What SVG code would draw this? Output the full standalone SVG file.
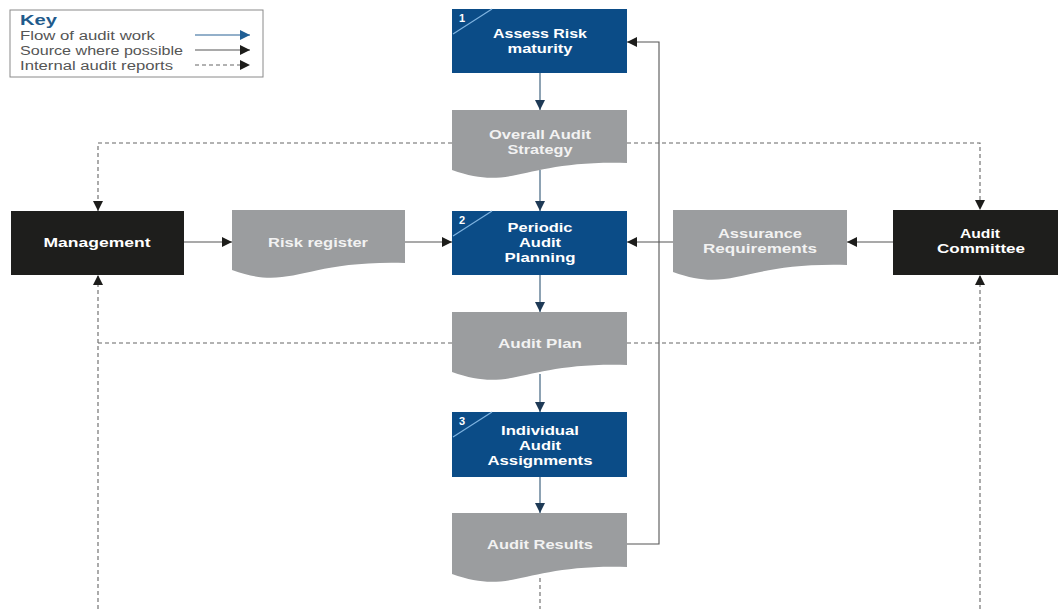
<svg xmlns="http://www.w3.org/2000/svg" width="1058" height="609" viewBox="0 0 1058 609">
<defs>
<marker id="ahBlue" viewBox="0 0 10 10" refX="10" refY="5" markerWidth="12" markerHeight="10" markerUnits="userSpaceOnUse" orient="auto"><path d="M0,0 L10,5 L0,10 Z" fill="#1e3a56"/></marker>
<marker id="ahKeyBlue" viewBox="0 0 10 10" refX="10" refY="5" markerWidth="12" markerHeight="10" markerUnits="userSpaceOnUse" orient="auto"><path d="M0,0 L10,5 L0,10 Z" fill="#1f5f95"/></marker>
<marker id="ahBlack" viewBox="0 0 10 10" refX="10" refY="5" markerWidth="12" markerHeight="10" markerUnits="userSpaceOnUse" orient="auto"><path d="M0,0 L10,5 L0,10 Z" fill="#1d1d1b"/></marker>
</defs>
<style>
.blue{fill:#0b4c87}
.doc{fill:#9b9d9f}
.dark{fill:#1e1e1c}
.t{font-family:"Liberation Sans",Arial,sans-serif;font-weight:bold;font-size:12.5px;text-anchor:middle}
.tw{fill:#ffffff}
.tg{fill:#f2f2f2}
.num{font-family:"Liberation Sans",Arial,sans-serif;font-weight:bold;font-size:11px;fill:#ffffff}
.diag{stroke:#7fb3e0;stroke-width:1.2;fill:none}
.flow{stroke:#50708a;stroke-width:1.3;fill:none}
.src{stroke:#555555;stroke-width:1.1;fill:none}
.rep{stroke:#666666;stroke-width:1.1;fill:none;stroke-dasharray:4 3}
.key{font-family:"Liberation Sans",Arial,sans-serif;font-size:12px;fill:#555555}
</style>
<rect width="1058" height="609" fill="#ffffff"/>

<g id="key">
<rect x="10" y="10" width="253" height="67" fill="#ffffff" stroke="#8a8a8a" stroke-width="1"/>
<text x="20" y="25" font-family="Liberation Sans,Arial,sans-serif" font-weight="bold" font-size="15" fill="#1f5b8c" textLength="37" lengthAdjust="spacingAndGlyphs">Key</text>
<text x="20" y="40" class="key" textLength="135" lengthAdjust="spacingAndGlyphs">Flow of audit work</text>
<text x="20" y="55" class="key" textLength="163" lengthAdjust="spacingAndGlyphs">Source where possible</text>
<text x="20" y="70" class="key" textLength="153" lengthAdjust="spacingAndGlyphs">Internal audit reports</text>
<line x1="195" y1="35" x2="250" y2="35" stroke="#6f96b8" stroke-width="1.3" marker-end="url(#ahKeyBlue)"/>
<line x1="195" y1="50" x2="250" y2="50" class="src" marker-end="url(#ahBlack)"/>
<line x1="195" y1="65" x2="250" y2="65" class="rep" marker-end="url(#ahBlack)"/>
</g>

<g id="connectors">
<line x1="540" y1="73" x2="540" y2="110" class="flow" marker-end="url(#ahBlue)"/>
<line x1="540" y1="170" x2="540" y2="211" class="flow" marker-end="url(#ahBlue)"/>
<line x1="540" y1="275" x2="540" y2="312" class="flow" marker-end="url(#ahBlue)"/>
<line x1="540" y1="374" x2="540" y2="412" class="flow" marker-end="url(#ahBlue)"/>
<line x1="540" y1="477" x2="540" y2="513" class="flow" marker-end="url(#ahBlue)"/>
<polyline points="627,544 659,544 659,42 627,42" class="src" marker-end="url(#ahBlack)"/>
<line x1="184" y1="242" x2="232" y2="242" class="src" marker-end="url(#ahBlack)"/>
<line x1="405" y1="242" x2="452" y2="242" class="src" marker-end="url(#ahBlack)"/>
<line x1="673" y1="242" x2="627" y2="242" class="src" marker-end="url(#ahBlack)"/>
<line x1="893" y1="242" x2="847" y2="242" class="src" marker-end="url(#ahBlack)"/>
<polyline points="452,143 98,143 98,211" class="rep" marker-end="url(#ahBlack)"/>
<polyline points="627,143 980,143 980,210" class="rep" marker-end="url(#ahBlack)"/>
<line x1="98" y1="609" x2="98" y2="275" class="rep" marker-end="url(#ahBlack)"/>
<line x1="980" y1="609" x2="980" y2="275" class="rep" marker-end="url(#ahBlack)"/>
<line x1="98" y1="343" x2="452" y2="343" class="rep"/>
<line x1="627" y1="343" x2="980" y2="343" class="rep"/>
<line x1="540" y1="578" x2="540" y2="609" class="rep"/>
</g>

<g id="assess-risk">
<rect x="452" y="9" width="175" height="64" class="blue"/>
<line x1="453" y1="34" x2="492" y2="9" class="diag"/>
<text x="459" y="22" class="num">1</text>
<text x="540" y="38" class="t tw" textLength="94" lengthAdjust="spacingAndGlyphs">Assess Risk</text>
<text x="540" y="53" class="t tw" textLength="65" lengthAdjust="spacingAndGlyphs">maturity</text>
</g>

<g id="overall-strategy">
<path d="M452,110 H627 V163 C522,160 513,192 452,170 Z" class="doc"/>
<text x="540" y="139" class="t tg" textLength="102" lengthAdjust="spacingAndGlyphs">Overall Audit</text>
<text x="540" y="154" class="t tg" textLength="65" lengthAdjust="spacingAndGlyphs">Strategy</text>
</g>

<g id="periodic-planning">
<rect x="452" y="211" width="175" height="64" class="blue"/>
<line x1="453" y1="236" x2="492" y2="211" class="diag"/>
<text x="459" y="224" class="num">2</text>
<text x="540" y="232" class="t tw" textLength="65" lengthAdjust="spacingAndGlyphs">Periodic</text>
<text x="540" y="247" class="t tw" textLength="42" lengthAdjust="spacingAndGlyphs">Audit</text>
<text x="540" y="262" class="t tw" textLength="71" lengthAdjust="spacingAndGlyphs">Planning</text>
</g>

<g id="audit-plan">
<path d="M452,312 H627 V365 C522,362 513,394 452,372 Z" class="doc"/>
<text x="540" y="348" class="t tg" textLength="84" lengthAdjust="spacingAndGlyphs">Audit Plan</text>
</g>

<g id="individual-assignments">
<rect x="452" y="412" width="175" height="65" class="blue"/>
<line x1="453" y1="437" x2="492" y2="412" class="diag"/>
<text x="459" y="425" class="num">3</text>
<text x="540" y="435" class="t tw" textLength="78" lengthAdjust="spacingAndGlyphs">Individual</text>
<text x="540" y="450" class="t tw" textLength="42" lengthAdjust="spacingAndGlyphs">Audit</text>
<text x="540" y="465" class="t tw" textLength="105" lengthAdjust="spacingAndGlyphs">Assignments</text>
</g>

<g id="audit-results">
<path d="M452,513 H627 V567 C522,564 513,596 452,574 Z" class="doc"/>
<text x="540" y="549" class="t tg" textLength="106" lengthAdjust="spacingAndGlyphs">Audit Results</text>
</g>

<g id="management">
<rect x="11" y="211" width="173" height="64" class="dark"/>
<text x="97" y="247" class="t tw" textLength="107" lengthAdjust="spacingAndGlyphs">Management</text>
</g>

<g id="risk-register">
<path d="M232,210 H405 V263 C301,260 292,292 232,270 Z" class="doc"/>
<text x="318" y="247" class="t tg" textLength="100" lengthAdjust="spacingAndGlyphs">Risk register</text>
</g>

<g id="assurance-requirements">
<path d="M673,210 H847 V265 C742,262 733,294 673,272 Z" class="doc"/>
<text x="760" y="238" class="t tg" textLength="84" lengthAdjust="spacingAndGlyphs">Assurance</text>
<text x="760" y="253" class="t tg" textLength="114" lengthAdjust="spacingAndGlyphs">Requirements</text>
</g>

<g id="audit-committee">
<rect x="893" y="210" width="165" height="65" class="dark"/>
<text x="980" y="238" class="t tw" textLength="40" lengthAdjust="spacingAndGlyphs">Audit</text>
<text x="981" y="253" class="t tw" textLength="88" lengthAdjust="spacingAndGlyphs">Committee</text>
</g>
</svg>
